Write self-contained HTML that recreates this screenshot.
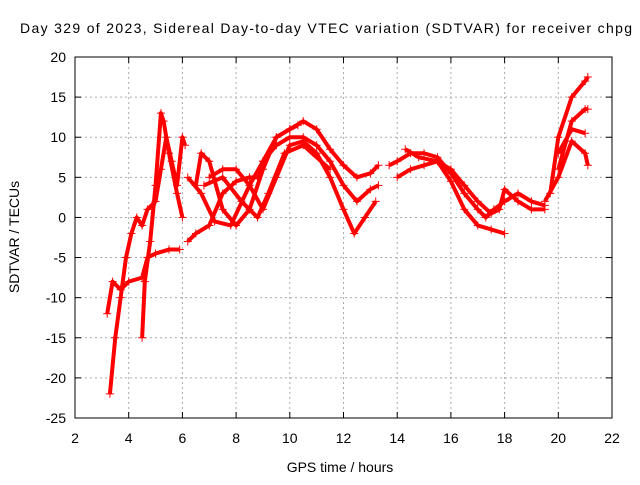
<!DOCTYPE html>
<html><head><meta charset="utf-8"><style>
body{margin:0;background:#fff}
svg{font-family:"Liberation Sans",sans-serif;font-size:14px}
</style></head><body>
<svg id="chart" width="640" height="480">
<text x="326" y="33" text-anchor="middle" font-size="14" textLength="612">Day 329 of 2023, Sidereal Day-to-day VTEC variation (SDTVAR) for receiver chpg</text>
<text x="340" y="472" text-anchor="middle">GPS time / hours</text>
<text transform="translate(19,237) rotate(-90)" text-anchor="middle">SDTVAR / TECUs</text>
<g id="grid"></g><g id="ticks"></g><g id="series"></g>
<rect x="75" y="57" width="537" height="361" fill="none" stroke="#000"/>
</svg>
<script>
const xTicks=[2,4,6,8,10,12,14,16,18,20,22];
const yTicks=[-25,-20,-15,-10,-5,0,5,10,15,20];
const track1=[[3.2,-12],[3.4,-8],[3.7,-9],[4.0,-8],[4.5,-7.5],[4.7,-5],[5.0,-4.5],[5.5,-4],[5.9,-4]];
const track2=[[3.3,-22],[3.5,-15],[3.7,-10],[3.9,-5],[4.1,-2],[4.3,0],[4.5,-1],[4.7,1],[5.0,2],[5.2,6],[5.4,10],[5.6,7],[5.8,4],[6.0,10],[6.1,9]];
const track3=[[4.5,-15],[4.6,-8],[4.8,-3],[5.0,4],[5.2,13],[5.3,12],[5.5,8],[5.8,3],[6.0,0]];
const track4=[[6.2,-3],[6.5,-2],[7.0,-1],[7.5,3],[8.0,4.5],[8.5,5],[8.8,5],[9.0,7],[9.5,10],[10,11],[10.3,11.5]];
const track5=[[6.5,4],[6.7,8],[7.0,7],[7.5,1],[8.0,-1],[8.5,1],[9.0,6],[9.5,10],[10,11],[10.5,12],[11,11],[11.5,8.5],[12,6.5],[12.5,5],[13,5.5],[13.3,6.5]];
const track6=[[6.2,5],[6.7,3],[7.2,-0.5],[7.8,-1],[8.5,4],[9,7],[9.5,9],[10,10],[10.5,10],[11,9],[11.5,7],[12,4],[12.5,2],[13,3.5],[13.3,4]];
const track7=[[7.0,5],[7.5,6],[8,6],[8.5,4],[9,1],[9.5,5],[10,9],[10.5,9.5],[11,8],[11.5,5],[12,1],[12.4,-2],[12.8,0],[13.2,2]];
const track8=[[6.8,4],[7.5,5],[8.2,2],[8.8,0],[9.2,3],[9.8,8],[10.5,9],[11.5,6]];
const track9=[[13.7,6.5],[14.0,7],[14.5,8],[15,8],[15.5,7.5],[16,5.5],[16.5,3],[17,1],[17.3,0],[17.6,1],[18,2],[18.5,3],[19,2],[19.5,1.5]];
const track10=[[14,5],[14.5,6],[15,6.5],[15.5,7],[16,4.5],[16.5,1],[17,-1],[17.5,-1.5],[18,-2]];
const track11=[[14.3,8.5],[14.8,7.5],[15.5,7],[16,6],[16.5,4],[17,2],[17.5,0.5],[17.8,1],[18,3.5],[18.5,2],[19,1],[19.5,1]];
const track12=[[19.7,3],[20,10],[20.5,15],[21,17],[21.1,17.5]];
const track13=[[20,6],[20.5,12],[21,13.5],[21.1,13.5]];
const track14=[[19.5,2],[20,5],[20.5,9.5],[21,8],[21.1,6.5]];
const track15=[[20,8],[20.5,11],[21,10.5]];
const tracks=[track1,track2,track3,track4,track5,track6,track7,track8,track9,track10,track11,track12,track13,track14,track15];
const NS="http://www.w3.org/2000/svg";
const X=v=>75+(v-2)/20*537, Y=v=>418-(v+25)/45*361;
const g=document.getElementById('grid'),tk=document.getElementById('ticks'),sg=document.getElementById('series');
function mk(tag,at,p){const e=document.createElementNS(NS,tag);for(const k in at)e.setAttribute(k,at[k]);p.appendChild(e);return e;}
xTicks.forEach(v=>{const x=X(v);
 if(v>2&&v<22){const l=mk('line',{x1:x,x2:x,y1:57,y2:418,stroke:'#aaa','stroke-dasharray':'2,3'},g);
 
 }
 const t=mk('text',{x:x,y:443,'text-anchor':'middle'},tk);t.textContent=v;
 
 
 mk('line',{x1:x,x2:x,y1:418,y2:412,stroke:'#000'},tk);mk('line',{x1:x,x2:x,y1:57,y2:63,stroke:'#000'},tk);});
yTicks.forEach(v=>{const y=Y(v);
 if(v>-25&&v<20){const l=mk('line',{x1:75,x2:612,y1:y,y2:y,stroke:'#aaa','stroke-dasharray':'2,3'},g);
 
 }
 const t=mk('text',{x:66,y:y+5,'text-anchor':'end'},tk);t.textContent=v;
 
 
 mk('line',{x1:75,x2:81,y1:y,y2:y,stroke:'#000'},tk);mk('line',{x1:612,x2:606,y1:y,y2:y,stroke:'#000'},tk);});
tracks.forEach((tr,i)=>{
 const p=mk('polyline',{points:tr.map(d=>X(d[0])+','+Y(d[1])).join(' '),fill:'none',stroke:'#f00','stroke-width':4,'stroke-linejoin':'round'},sg);
 
 
 tr.forEach(d=>{const x=X(d[0]),y=Y(d[1]);
  const m=mk('path',{d:`M${x-4},${y}h8M${x},${y-4}v8`,stroke:'#f00','stroke-width':1},sg);
  
  });
});
</script>
</body></html>
